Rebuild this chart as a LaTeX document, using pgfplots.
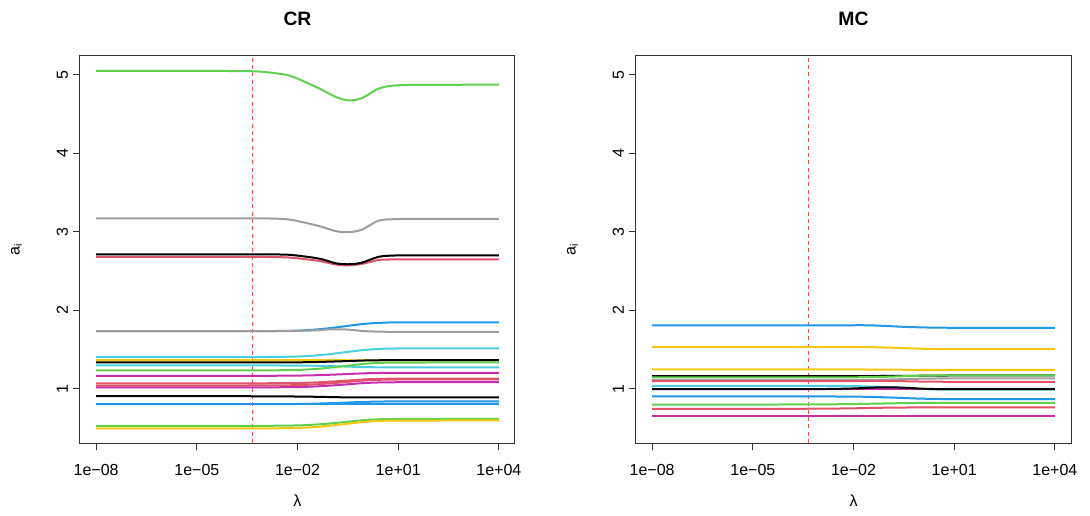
\documentclass[border=0pt]{standalone}
\usepackage{fontspec}
\setmainfont{Liberation Sans}
\usepackage{pgfplots}
\usepackage{pgfplotstable}
\pgfplotsset{compat=1.18}
\definecolor{rBlack}{HTML}{000000}
\definecolor{rRed}{HTML}{DF536B}
\definecolor{rGreen}{HTML}{61D04F}
\definecolor{rBlue}{HTML}{2297E6}
\definecolor{rCyan}{HTML}{4CCFDD}
\definecolor{rMag}{HTML}{C42FB0}
\definecolor{rYel}{HTML}{F5C710}
\definecolor{rGray}{HTML}{9E9E9E}
\definecolor{vline}{HTML}{F0505A}

% CR: lines that dip
\pgfplotstableread{
x        grnD  grayD blkD  redD
1e-8     5.05  3.173 2.714 2.68
1e-5     5.05  3.173 2.714 2.68
5.01e-4  5.045 3.172 2.714 2.68
2.24e-3  5.02  3.168 2.712 2.678
6.76e-3  4.98  3.152 2.705 2.67
4.27e-2  4.83  3.075 2.66  2.63
0.135    4.72  3.01  2.60  2.585
0.316    4.675 2.995 2.587 2.573
0.794    4.70  3.025 2.605 2.59
2.51     4.82  3.14  2.68  2.64
6.31     4.86  3.16  2.697 2.648
31.6     4.872 3.165 2.70  2.65
1e4      4.874 3.165 2.70  2.65
}\tabCRdip

% CR: other lines
\pgfplotstableread{
x       bluT  grayT cyanT yelT  blkT   cyn2   grn   mag   redA  redB  mag2  blk2  bluA  bluB  grnB  yelB
1e-8    1.734 1.734 1.404 1.366 1.336  1.298  1.234 1.166 1.070 1.042 1.018 0.907 0.805 0.805 0.528 0.495
1e-5    1.734 1.734 1.404 1.366 1.336  1.298  1.234 1.166 1.070 1.042 1.018 0.907 0.805 0.805 0.528 0.495
1e-3    1.735 1.734 1.405 1.366 1.336  1.298  1.235 1.166 1.071 1.043 1.019 0.905 0.805 0.805 0.529 0.496
1e-2    1.742 1.738 1.412 1.366 1.338  1.296  1.241 1.169 1.074 1.047 1.023 0.902 0.805 0.807 0.534 0.502
0.0316  1.754 1.745 1.424 1.365 1.341  1.2935 1.252 1.173 1.081 1.056 1.030 0.899 0.805 0.811 0.544 0.513
0.1     1.775 1.758 1.444 1.365 1.347  1.289  1.271 1.180 1.092 1.070 1.042 0.895 0.805 0.818 0.560 0.532
0.316   1.802 1.755 1.471 1.364 1.354  1.283  1.295 1.189 1.106 1.089 1.058 0.891 0.805 0.826 0.581 0.556
1       1.828 1.735 1.496 1.363 1.361  1.277  1.319 1.198 1.120 1.107 1.074 0.890 0.805 0.834 0.602 0.580
3.16    1.841 1.728 1.509 1.362 1.3645 1.274  1.331 1.202 1.127 1.116 1.082 0.890 0.805 0.838 0.613 0.592
10      1.846 1.727 1.514 1.362 1.366  1.273  1.335 1.204 1.129 1.119 1.084 0.890 0.805 0.840 0.616 0.596
1e4     1.847 1.727 1.515 1.362 1.366  1.273  1.336 1.204 1.130 1.120 1.085 0.890 0.805 0.840 0.617 0.597
}\tabCR

% MC
\pgfplotstableread{
x      bluR   yelR   yel2  grnR  blkR  grayR redR  blk2  cynR   magR  blu2  grn2  red2  mag2
1e-8   1.808  1.536  1.247 1.145 1.162 1.110 1.098 0.996 1.038  0.996 0.903 0.800 0.745 0.656
1e-5   1.808  1.536  1.247 1.145 1.162 1.110 1.098 0.996 1.038  0.996 0.903 0.800 0.745 0.656
1e-3   1.808  1.536  1.247 1.145 1.162 1.110 1.098 0.997 1.038  0.996 0.903 0.802 0.747 0.656
1e-2   1.810  1.534  1.247 1.147 1.163 1.112 1.099 1.005 1.035  0.996 0.901 0.806 0.752 0.656
0.0316 1.809  1.531  1.246 1.150 1.163 1.114 1.100 1.015 1.029  0.996 0.897 0.810 0.756 0.656
0.1    1.800  1.525  1.245 1.154 1.164 1.118 1.100 1.020 1.021  0.996 0.891 0.814 0.760 0.656
0.316  1.790  1.518  1.243 1.161 1.165 1.124 1.097 1.015 1.009  0.996 0.883 0.818 0.762 0.656
1      1.783  1.511  1.241 1.167 1.167 1.129 1.093 1.003 0.998  0.996 0.875 0.820 0.763 0.656
3.16   1.7795 1.5075 1.240 1.170 1.169 1.132 1.091 0.997 0.992  0.996 0.871 0.820 0.763 0.656
10     1.778  1.506  1.240 1.171 1.170 1.133 1.090 0.996 0.9905 0.996 0.869 0.820 0.763 0.656
1e4    1.778  1.506  1.240 1.171 1.170 1.133 1.090 0.996 0.990  0.996 0.869 0.820 0.763 0.656
}\tabMC

\pgfplotsset{
  every axis plot/.append style={line width=1.5pt, smooth, tension=0.5},
}

\begin{document}
\begin{tikzpicture}
\path[use as bounding box] (0,0) rectangle (817.5pt,386.25pt);
\begin{axis}[
    at={(60pt,54pt)}, anchor=south west, title={CR},
    scale only axis, width=326.25pt, height=290.25pt,
    xmode=log, xmin=3.3e-9, xmax=3.02e4, ymin=0.31, ymax=5.24,
    xtick={1e-8,1e-5,1e-2,1e1,1e4},
    xticklabels={1e−08,1e−05,1e−02,1e+01,1e+04},
    ytick={1,2,3,4,5}, yticklabels={1,2,3,4,5},
    tick pos=left, tick align=outside, major tick length=5.5pt,
    xminorticks=false, yminorticks=false,
    axis line style={line width=0.75pt, black!80},
    every tick/.style={black!80, line width=0.75pt},
    tick label style={font=\fontsize{12}{14}\selectfont},
    xticklabel style={yshift=-7pt},
    yticklabel style={rotate=90, anchor=south, xshift=0pt},
    xlabel={λ}, ylabel={a\textsubscript{i}},
    label style={font=\fontsize{12}{14}\selectfont},
    xlabel style={at={(axis description cs:0.5,-0.15)}, anchor=center},
    ylabel style={at={(axis description cs:-0.146,0.5)}, anchor=center},
    title style={at={(axis description cs:0.5,1.075)}, anchor=center, font=\fontsize{14.5}{17}\selectfont\bfseries},
  ]
\addplot[vline, line width=0.7pt, dash pattern=on 3pt off 2.5pt, sharp plot] coordinates {(4.4e-4,0.31) (4.4e-4,5.24)};
\addplot[rGreen] table[x=x,y=grnD]{\tabCRdip};
\addplot[rGray] table[x=x,y=grayD]{\tabCRdip};
\addplot[rRed] table[x=x,y=redD]{\tabCRdip};
\addplot[rBlack] table[x=x,y=blkD]{\tabCRdip};
\addplot[rBlue] table[x=x,y=bluT]{\tabCR};
\addplot[rGray] table[x=x,y=grayT]{\tabCR};
\addplot[rCyan] table[x=x,y=cyanT]{\tabCR};
\addplot[rYel] table[x=x,y=yelT]{\tabCR};
\addplot[rBlack] table[x=x,y=blkT]{\tabCR};
\addplot[rCyan] table[x=x,y=cyn2]{\tabCR};
\addplot[rGreen] table[x=x,y=grn]{\tabCR};
\addplot[rMag] table[x=x,y=mag]{\tabCR};
\addplot[rMag] table[x=x,y=mag2]{\tabCR};
\addplot[rRed] table[x=x,y=redB]{\tabCR};
\addplot[rRed] table[x=x,y=redA]{\tabCR};
\addplot[rBlack] table[x=x,y=blk2]{\tabCR};
\addplot[rBlue] table[x=x,y=bluA]{\tabCR};
\addplot[rBlue] table[x=x,y=bluB]{\tabCR};
\addplot[rGreen] table[x=x,y=grnB]{\tabCR};
\addplot[rYel] table[x=x,y=yelB]{\tabCR};
\end{axis}
\begin{axis}[
    at={(477pt,54pt)}, anchor=south west, title={MC},
    scale only axis, width=326.25pt, height=290.25pt,
    xmode=log, xmin=3.3e-9, xmax=3.02e4, ymin=0.31, ymax=5.24,
    xtick={1e-8,1e-5,1e-2,1e1,1e4},
    xticklabels={1e−08,1e−05,1e−02,1e+01,1e+04},
    ytick={1,2,3,4,5}, yticklabels={1,2,3,4,5},
    tick pos=left, tick align=outside, major tick length=5.5pt,
    xminorticks=false, yminorticks=false,
    axis line style={line width=0.75pt, black!80},
    every tick/.style={black!80, line width=0.75pt},
    tick label style={font=\fontsize{12}{14}\selectfont},
    xticklabel style={yshift=-7pt},
    yticklabel style={rotate=90, anchor=south, xshift=0pt},
    xlabel={λ}, ylabel={a\textsubscript{i}},
    label style={font=\fontsize{12}{14}\selectfont},
    xlabel style={at={(axis description cs:0.5,-0.15)}, anchor=center},
    ylabel style={at={(axis description cs:-0.146,0.5)}, anchor=center},
    title style={at={(axis description cs:0.5,1.075)}, anchor=center, font=\fontsize{14.5}{17}\selectfont\bfseries},
  ]
\addplot[vline, line width=0.7pt, dash pattern=on 3pt off 2.5pt, sharp plot] coordinates {(4.4e-4,0.31) (4.4e-4,5.24)};
\addplot[rBlue] table[x=x,y=bluR]{\tabMC};
\addplot[rYel] table[x=x,y=yelR]{\tabMC};
\addplot[rYel] table[x=x,y=yel2]{\tabMC};
\addplot[rBlack] table[x=x,y=blkR]{\tabMC};
\addplot[rGreen] table[x=x,y=grnR]{\tabMC};
\addplot[rGray] table[x=x,y=grayR]{\tabMC};
\addplot[rRed] table[x=x,y=redR]{\tabMC};
\addplot[rCyan] table[x=x,y=cynR]{\tabMC};
\addplot[rMag] table[x=x,y=magR]{\tabMC};
\addplot[rBlack] table[x=x,y=blk2]{\tabMC};
\addplot[rBlue] table[x=x,y=blu2]{\tabMC};
\addplot[rGreen] table[x=x,y=grn2]{\tabMC};
\addplot[rRed] table[x=x,y=red2]{\tabMC};
\addplot[rMag] table[x=x,y=mag2]{\tabMC};
\end{axis}
\end{tikzpicture}
\end{document}
